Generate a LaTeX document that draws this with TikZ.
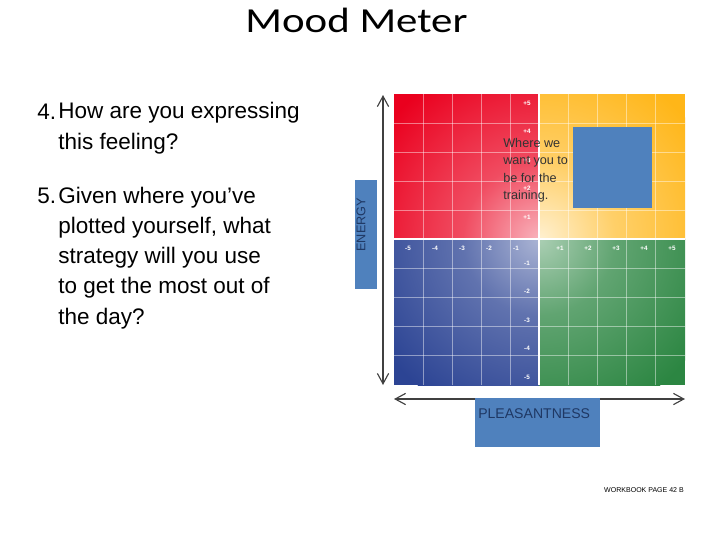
\documentclass[tikz,border=0pt]{standalone}
\usepackage{fontspec}
\setmainfont{Liberation Sans}
\newfontfamily\titlefont{Carlito}
\usetikzlibrary{arrows.meta}

\definecolor{moodred}{RGB}{234,0,30}
\definecolor{moodyellow}{RGB}{255,182,24}
\definecolor{moodblue}{RGB}{44,68,148}
\definecolor{moodgreen}{RGB}{44,134,66}
\definecolor{boxblue}{RGB}{79,129,189}
\definecolor{boxtext}{RGB}{31,56,100}
\definecolor{arrowgray}{RGB}{64,64,64}

% fades from the centre of the meter outwards
\pgfdeclareradialshading{redfade}{\pgfpointorigin}{color(0bp)=(moodred!30!white); color(10bp)=(moodred!70!white); color(25bp)=(moodred); color(50bp)=(moodred)}
\pgfdeclareradialshading{yellowfade}{\pgfpointorigin}{color(0bp)=(moodyellow!20!white); color(10bp)=(moodyellow!65!white); color(25bp)=(moodyellow); color(50bp)=(moodyellow)}
\pgfdeclareradialshading{bluefade}{\pgfpointorigin}{color(0bp)=(moodblue!40!white); color(10bp)=(moodblue!75!white); color(25bp)=(moodblue); color(50bp)=(moodblue)}
\pgfdeclareradialshading{greenfade}{\pgfpointorigin}{color(0bp)=(moodgreen!40!white); color(10bp)=(moodgreen!75!white); color(25bp)=(moodgreen); color(50bp)=(moodgreen)}

\tikzset{
  bluebox/.style={fill=boxblue, inner sep=0pt},
  axislabel/.style={text=white, font=\fontsize{4.5}{5}\selectfont\bfseries, inner sep=0pt},
  gridline/.style={white, opacity=0.45, line width=0.5pt},
  axisarrow/.style={arrowgray, line width=0.8pt,
    {Straight Barb[length=2.6mm,width=2.8mm]}-{Straight Barb[length=2.6mm,width=2.8mm]}},
  question/.style={font=\fontsize{16}{21.4}\selectfont, align=left, anchor=base west, inner sep=0pt},
}

\begin{document}
\begin{tikzpicture}[x=0.025cm, y=-0.025cm]
  \useasboundingbox (0,0) rectangle (720,540);
  % the four quadrants
  \fill[moodred] (394,94) rectangle (539,239);
  \fill[moodyellow] (539,94) rectangle (685,239);
  \fill[moodblue] (394,239) rectangle (539,385);
  \fill[moodgreen] (539,239) rectangle (685,385);
  \begin{scope}
    \clip (394,94) rectangle (539,239);
    \shade[shading=redfade] (539,239) circle (4.75cm);
  \end{scope}
  \begin{scope}
    \clip (539,94) rectangle (685,239);
    \shade[shading=yellowfade] (539,239) circle (4.75cm);
  \end{scope}
  \begin{scope}
    \clip (394,239) rectangle (539,385);
    \shade[shading=bluefade] (539,239) circle (4.75cm);
  \end{scope}
  \begin{scope}
    \clip (539,239) rectangle (685,385);
    \shade[shading=greenfade] (539,239) circle (4.75cm);
  \end{scope}
  % grid
  \foreach \k in {1,...,4} {
    \draw[gridline] ({394+29*\k},94) -- ({394+29*\k},385);
    \draw[gridline] ({539+29*\k},94) -- ({539+29*\k},385);
    \draw[gridline] (394,{94+29*\k}) -- (685,{94+29*\k});
    \draw[gridline] (394,{239+29*\k}) -- (685,{239+29*\k});
  }
  \draw[white, line width=1.5pt] (539,94) -- (539,385);
  \draw[white, line width=1.5pt] (394,239) -- (685,239);
  % scale labels
  \foreach \k in {1,...,5} {
    \node[axislabel] (vp\k) at (527,{245.5-28.5*\k}) {+\k};
    \node[axislabel] (vn\k) at (527,{234.5+28.5*\k}) {-\k};
    \node[axislabel] (hp\k) at ({532+28*\k},248) {+\k};
    \node[axislabel] (hn\k) at ({543-27*\k},248) {-\k};
  }
  \node[bluebox, minimum width=1.975cm, minimum height=2.025cm, anchor=north west] (target) at (573,127) {};
  \node[anchor=base west, align=left, inner sep=0pt, font=\fontsize{9}{12.4}\selectfont, text=black!80]
    (where) at (503,199.5) {Where we\\want you to\\be for the\\training.};
  % axes
  \coordinate (etop) at (383,95);
  \coordinate (ebot) at (383,385);
  \coordinate (pleft) at (394,399);
  \coordinate (pright) at (685,399);
  \draw[axisarrow] (etop) -- (ebot);
  \draw[axisarrow] (pleft) -- (pright);
  \node[bluebox, rotate=90, text width=1.825cm, align=right, inner xsep=0.45cm, inner ysep=0.7pt,
    text height=6.6pt, text depth=7.6pt, text=boxtext, font=\fontsize{9}{10}\selectfont]
    (energy) at (366,234.5) {ENERGY};
  \node[bluebox, anchor=north west, text width=2.975cm, align=left, inner xsep=0.075cm, inner ysep=0pt,
    text height=14.2pt, text depth=20.5pt, text=boxtext, font=\fontsize{10}{12}\selectfont]
    (pleasant) at (475,398) {PLEASANTNESS};
  % texts
  \node[font=\titlefont\fontsize{25}{30}\selectfont, xscale=1.22, anchor=base, inner sep=0pt]
    (title) at (356.5,32) {Mood Meter};
  \node[question] (n4) at (37,119) {4.};
  \node[question] (q4) at (58,149) {How are you expressing\\this feeling?};
  \node[question] (n5) at (37,203) {5.};
  \node[question] (q5) at (58,324) {Given where you’ve\\plotted yourself, what\\strategy will you use\\to get the most out of\\the day?};
  \node[font=\fontsize{5}{6}\selectfont, inner sep=0pt] (page) at (644,490) {WORKBOOK PAGE 42 B};
\end{tikzpicture}
\end{document}
